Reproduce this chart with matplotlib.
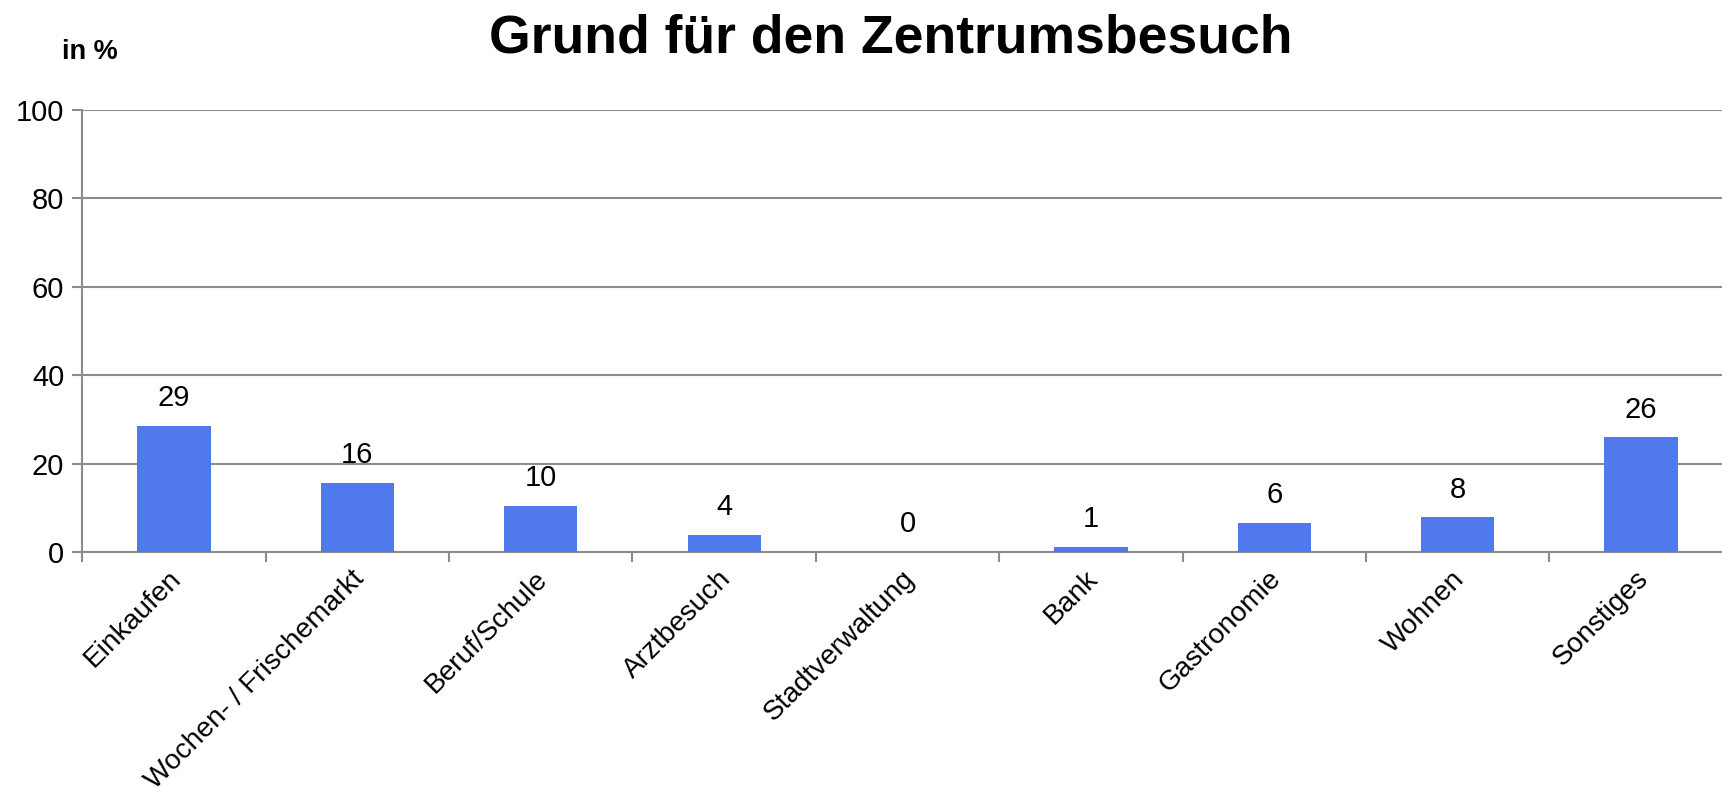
import matplotlib.pyplot as plt
import matplotlib.transforms as mtransforms
import numpy as np

plt.rcParams['font.family'] = ['Liberation Sans', 'DejaVu Sans']

categories = ['Einkaufen', 'Wochen- / Frischemarkt', 'Beruf/Schule', 'Arztbesuch',
              'Stadtverwaltung', 'Bank', 'Gastronomie', 'Wohnen', 'Sonstiges']
values = [28.6, 15.6, 10.4, 3.9, 0.0, 1.2, 6.5, 7.8, 25.9]
y_ticks = [0, 20, 40, 60, 80, 100]

grey = '#8c8c8c'

fig = plt.figure(figsize=(17.22, 7.95), dpi=100)
ax = fig.add_axes([0.0478, 0.3057, 0.9585, 0.556])

x = np.arange(len(categories))
ax.bar(x, values, width=0.4, color='#5079ee', zorder=3)

for xi, v in zip(x, values):
    ax.annotate(f'{v:.0f}', (xi, v), xytext=(0, 10), textcoords='offset points',
                ha='center', va='bottom', fontsize=21)

ax.set_xlim(-0.5, len(categories) - 0.5)
ax.set_ylim(0, 100)
ax.set_yticks(y_ticks)
ax.tick_params(axis='y', labelsize=21, length=7, color=grey, width=1.5, pad=6)
ax.grid(axis='y', color=grey, linewidth=1.5, zorder=0)

# ticks sit between categories, labels at centres
ax.set_xticks(np.arange(len(categories) + 1) - 0.5)
ax.set_xticklabels([])
ax.tick_params(axis='x', length=7, color=grey, width=1.5)
ax.set_xticks(x, minor=True)
ax.set_xticklabels(categories, minor=True, rotation=45, ha='right',
                   rotation_mode='anchor', fontsize=20.2)
ax.tick_params(axis='x', which='minor', length=0, pad=10)
shift = mtransforms.ScaledTranslation(-0.06, 0, fig.dpi_scale_trans)
for lbl in ax.get_xticklabels(minor=True):
    lbl.set_transform(lbl.get_transform() + shift)

for s in ['top', 'right']:
    ax.spines[s].set_visible(False)
for s in ['left', 'bottom']:
    ax.spines[s].set_color(grey)
    ax.spines[s].set_linewidth(1.5)

fig.text(0.517, 0.952, 'Grund für den Zentrumsbesuch', ha='center', va='center',
         fontsize=38.5, fontweight='bold')
fig.text(0.036, 0.934, 'in %', ha='left', va='center', fontsize=19.5, fontweight='bold')

plt.savefig('out.png', dpi=100)
